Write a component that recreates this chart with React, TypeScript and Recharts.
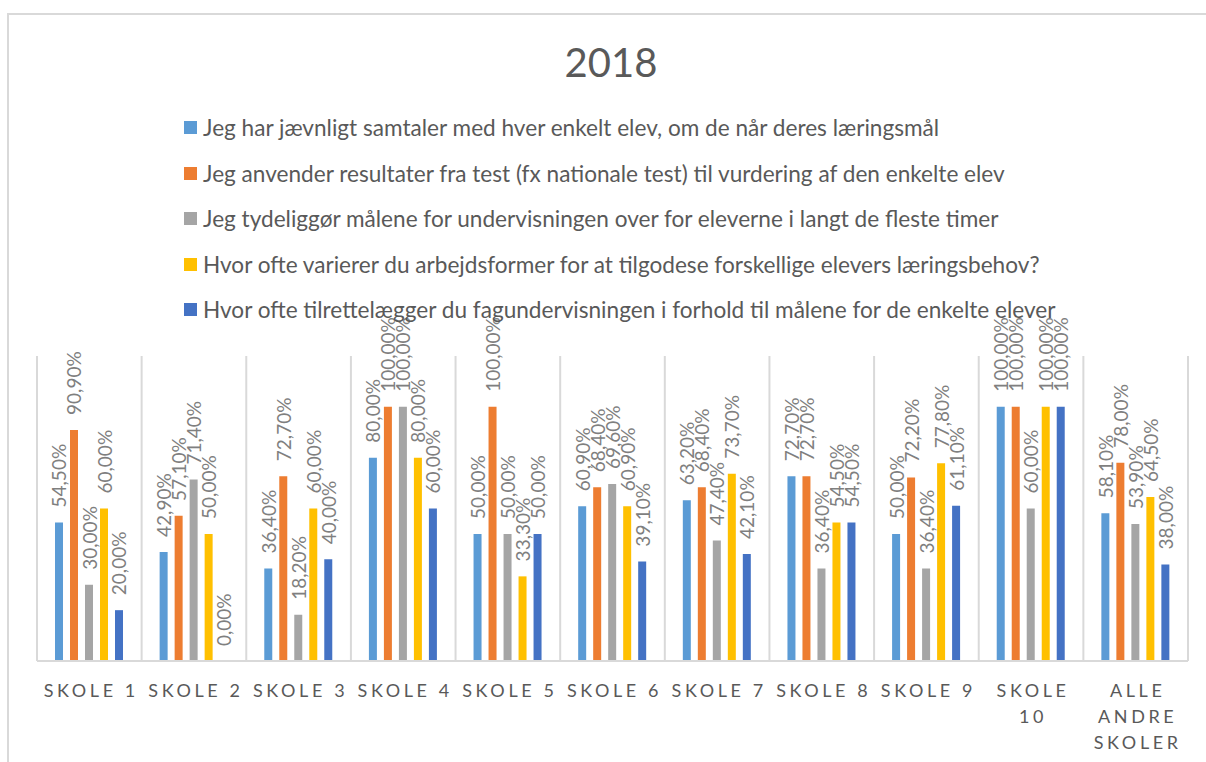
import React from "react"
import { Bar, BarChart, CartesianGrid, LabelList, Legend, XAxis, YAxis } from "recharts"

const categories = ["SKOLE 1", "SKOLE 2", "SKOLE 3", "SKOLE 4", "SKOLE 5", "SKOLE 6", "SKOLE 7", "SKOLE 8", "SKOLE 9", "SKOLE 10", "ALLE ANDRE SKOLER"]

const seriesNames = [
  "Jeg har jævnligt samtaler med hver enkelt elev, om de når deres læringsmål",
  "Jeg anvender resultater fra test (fx nationale test) til vurdering af den enkelte elev",
  "Jeg tydeliggør målene for undervisningen over for eleverne i langt de fleste timer",
  "Hvor ofte varierer du arbejdsformer for at tilgodese forskellige elevers læringsbehov?",
  "Hvor ofte tilrettelægger du fagundervisningen i forhold til målene for de enkelte elever",
]

const colors = ["#5b9bd5", "#ed7d31", "#a5a5a5", "#ffc000", "#4472c4"]

const samtaler = [54.5, 42.9, 36.4, 80, 50, 60.9, 63.2, 72.7, 50, 100, 58.1]
const resultater = [90.9, 57.1, 72.7, 100, 100, 68.4, 68.4, 72.7, 72.2, 100, 78.0]
const maalene = [30, 71.4, 18.2, 100, 50, 69.6, 47.4, 36.4, 36.4, 60, 53.9]
const arbejdsformer = [60, 50, 60, 80, 33.3, 60.9, 73.7, 54.5, 77.8, 100, 64.5]
const tilrettelaegger = [20, 0, 40, 60, 50, 39.1, 42.1, 54.5, 61.1, 100, 38.0]

const seriesValues = [samtaler, resultater, maalene, arbejdsformer, tilrettelaegger]

const data = categories.map((name, i) => {
  const row: Record<string, string | number> = { name }
  seriesValues.forEach((vals, s) => { row["s" + s] = vals[i] })
  return row
})

const FONT = "Lato, 'Liberation Sans', sans-serif"

const fmt = (v: number) => v.toFixed(2).replace(".", ",") + "%"

const renderLabel = (props: any) => {
  const { x, y, width, height, value } = props
  const cx = Number(x) + Number(width) / 2
  // zero-height bars get a 1px minPointSize; anchor their label at the base
  const top = Number(value) === 0 ? Number(y) + Number(height) : Number(y)
  const ty = top - 15
  return (
    <text
      x={cx}
      y={ty}
      transform={`rotate(-90 ${cx} ${ty})`}
      textAnchor="start"
      dominantBaseline="central"
      fill="#7f7f7f"
      fontSize={19}
      fontFamily={FONT}
    >
      {fmt(Number(value))}
    </text>
  )
}

const CategoryTick = (props: any) => {
  const { x, y, payload } = props
  const label: string = payload.value
  const lines = label.length > 7 ? label.split(" ") : [label]
  return (
    <text x={x} y={y} textAnchor="middle" fill="#595959" fontSize={18} fontFamily={FONT} letterSpacing={3.6}>
      {lines.map((ln, i) => (
        <tspan key={i} x={x + 2} dy={i === 0 ? 28 : 26}>{ln}</tspan>
      ))}
    </text>
  )
}

const LegendBox = () => (
  <div style={{ fontFamily: FONT }}>
    {seriesNames.map((n, i) => (
      <div key={i} style={{ display: "flex", alignItems: "center", height: 45.5, color: "#595959", fontSize: 22.6, whiteSpace: "nowrap" }}>
        <span style={{ width: 13, height: 13, background: colors[i], marginRight: 6, display: "inline-block", flex: "none" }} />
        <span>{n}</span>
      </div>
    ))}
  </div>
)

export default function App() {
  return (
    <div style={{ position: "absolute", left: 0, top: 0, width: 1206, height: 762, overflow: "hidden", background: "#fff" }}>
      <div style={{ position: "absolute", left: 7, top: 13, width: 1300, height: 900, border: "2px solid #d9d9d9" }} />
      <div style={{ position: "absolute", left: 0, top: 38, width: 1222, textAlign: "center", fontFamily: FONT, fontSize: 40, color: "#595959" }}>
        2018
      </div>
      <div style={{ position: "absolute", left: 0, top: 0 }}>
        <BarChart
          width={1206}
          height={762}
          data={data}
          margin={{ top: 356, right: 18, bottom: 0, left: 37 }}
          barSize={8}
          barGap={7}
          barCategoryGap="17%"
        >
          <CartesianGrid
            horizontal={false}
            stroke="#d9d9d9"
            strokeWidth={2}
            verticalCoordinatesGenerator={(p: any) => {
              const off = p.offset
              return Array.from({ length: categories.length + 1 }, (_, i) => off.left + (i * off.width) / categories.length)
            }}
          />
          <XAxis
            dataKey="name"
            height={101}
            interval={0}
            tickLine={false}
            axisLine={{ stroke: "#d9d9d9", strokeWidth: 2 }}
            tick={<CategoryTick />}
          />
          <YAxis hide domain={[0, 120]} />
          <Legend
            layout="vertical"
            align="center"
            verticalAlign="middle"
            wrapperStyle={{ position: "absolute", left: 184, top: 105, width: "auto" }}
            content={() => <LegendBox />}
          />
          {seriesValues.map((_, s) => (
            <Bar key={s} dataKey={"s" + s} name={seriesNames[s]} fill={colors[s]} minPointSize={1} isAnimationActive={false}>
              <LabelList dataKey={"s" + s} content={renderLabel} />
            </Bar>
          ))}
        </BarChart>
      </div>
    </div>
  )
}
